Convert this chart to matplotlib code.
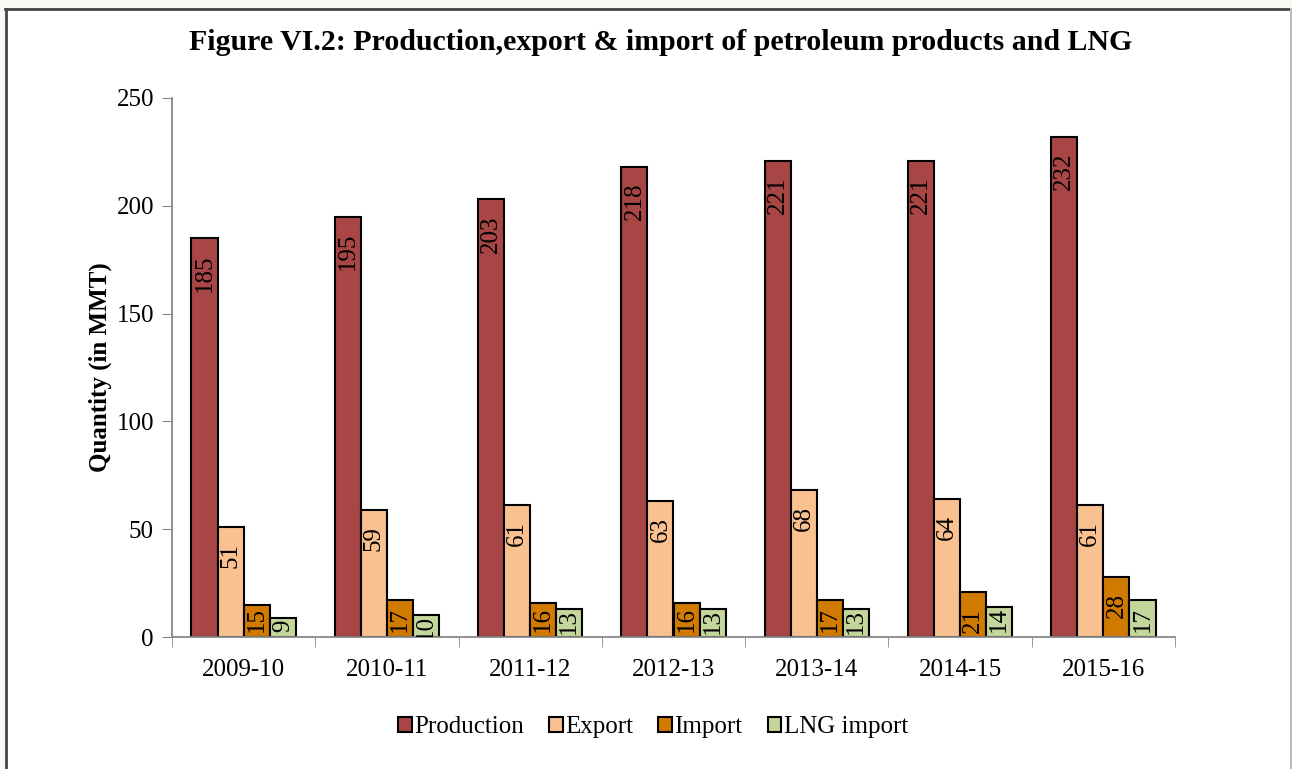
import matplotlib.pyplot as plt
import numpy as np
import matplotlib

plt.rcParams['font.family'] = ['Liberation Serif', 'DejaVu Serif']

years = ['2009-10', '2010-11', '2011-12', '2012-13', '2013-14', '2014-15', '2015-16']
production = [185, 195, 203, 218, 221, 221, 232]
export = [51, 59, 61, 63, 68, 64, 61]
imports = [15, 17, 16, 16, 17, 21, 28]
lng_import = [9, 10, 13, 13, 13, 14, 17]

series = [production, export, imports, lng_import]
names = ['Production', 'Export', 'Import', 'LNG import']
colors = ['#a84646', '#f9c090', '#d17a00', '#c3d69b']

W, H = 1292, 769
fig = plt.figure(figsize=(W / 100, H / 100), dpi=100, facecolor='#faf8f3')

# white page with its frame lines (top/left dark, right light)
page = matplotlib.patches.Rectangle((5 / W, 0), 1 - 6 / W, 1 - 9 / H, transform=fig.transFigure,
                                    facecolor='white', edgecolor='none', zorder=-10)
fig.patches.append(page)
fig.add_artist(matplotlib.lines.Line2D([5 / W, 1], [1 - 9 / H] * 2, color='#444444', lw=2))
fig.add_artist(matplotlib.lines.Line2D([5.5 / W] * 2, [0, 1 - 9 / H], color='#444444', lw=2))
fig.add_artist(matplotlib.lines.Line2D([1 - 1.5 / W] * 2, [0, 1 - 9 / H], color='#bbbbbb', lw=1.5))

ax = fig.add_axes([172 / W, 1 - 637 / H, (1175 - 172) / W, (637 - 98) / H])
ax.patch.set_alpha(0)

ymax = 250
px_per_unit = (637 - 98) / ymax
label_size = 18
x = np.arange(len(years))
w = 0.182
for i in range(len(series)):
    pos = x + (i - 1.5) * w
    ax.bar(pos, series[i], width=w, color=colors[i], edgecolor='black',
           linewidth=1.5, label=names[i], zorder=2)
    for xp, v in zip(pos, series[i]):
        # inside-end label; short bars push the label up near the top
        bar_px = v * px_per_unit
        text_px = len(str(v)) * label_size * 100 / 72 * 0.5
        if bar_px >= text_px + 18:
            gap_px = 16
        else:
            gap_px = max(bar_px - text_px - 5, 0)
        ax.annotate(str(v), (xp, v), xytext=(0, -gap_px * 0.72), textcoords='offset points',
                    rotation=90, ha='center', va='top', fontsize=label_size, zorder=3,
                    annotation_clip=False, clip_on=True)

ax.set_xlim(-0.5, len(years) - 0.5)
ax.set_ylim(0, ymax)
ax.set_yticks(range(0, 251, 50))
ax.set_xticks(x)
ax.set_xticklabels(years, fontsize=18)
ax.set_xticks(np.arange(-0.5, len(years), 1), minor=True)
ax.tick_params(axis='x', which='major', length=0, pad=16)
ax.tick_params(axis='x', which='minor', length=7, color='#888888', direction='out')
ax.tick_params(axis='y', labelsize=18, length=7, color='#888888', direction='out', pad=6)
for s in ['top', 'right']:
    ax.spines[s].set_visible(False)
for s in ['left', 'bottom']:
    ax.spines[s].set_color('#888888')
    ax.spines[s].set_linewidth(1.3)

ax.set_ylabel('Quantity (in MMT)', fontsize=18, fontweight='bold', labelpad=3)
fig.text(661 / W, 1 - 42 / H, 'Figure VI.2: Production,export & import of petroleum products and LNG',
         ha='center', va='center', fontsize=21.5, fontweight='bold')

ax.legend(loc='center', bbox_to_anchor=((653 - 172) / (1175 - 172), (637 - 727) / (637 - 98)),
          ncol=4, frameon=False, fontsize=18, handlelength=0.55, handleheight=0.55,
          handletextpad=0.1, columnspacing=1.0)

plt.savefig('out.png', dpi=100, facecolor=fig.get_facecolor())
